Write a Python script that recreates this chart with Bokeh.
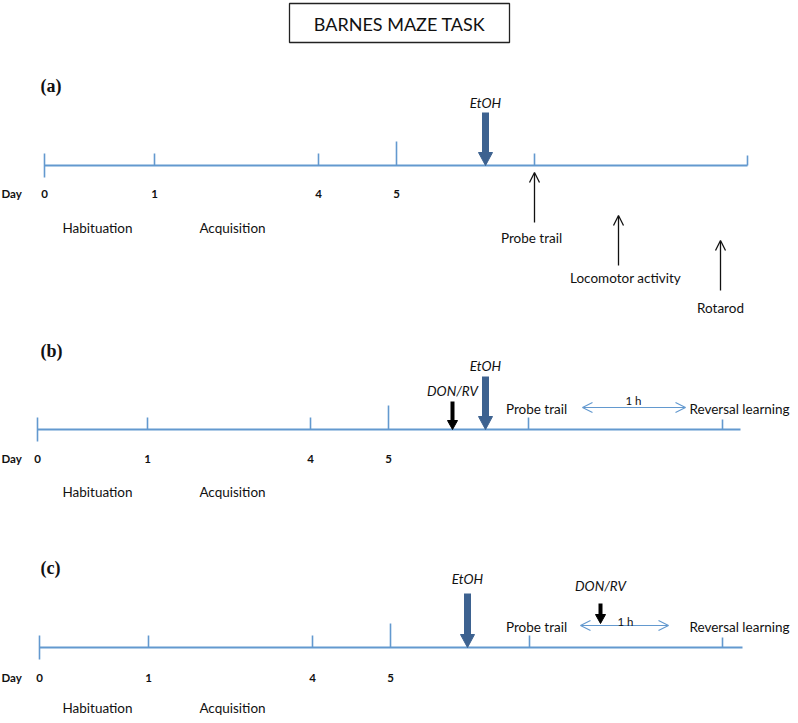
from bokeh.plotting import figure
from bokeh.models import Range1d, Arrow, OpenHead, Label
from bokeh.embed import file_html
from bokeh.resources import INLINE

# ---------------- data (image-pixel coordinates of the diagram) ----------------
day_labels = ["0", "1", "4", "5"]
panel_names = ["(a)", "(b)", "(c)"]
panel_label_y = [85, 350, 567]
line_y = [165, 429, 647]
line_x0 = [44, 37, 39]
line_x1 = [747, 740, 742]
day_tick_x = [[44, 154, 318, 396], [37, 147, 310, 388], [39, 148, 312, 390]]
day_text_y = [193, 458, 677]
phase_labels = ["Habituation", "Acquisition"]
phase_x = [97, 232]
phase_y = [227, 491, 707]

# extra ticks after day 5
extra_tick_x = [[534, 747], [528, 722], [529, 722]]

# EtOH arrows (x, top)
etoh_x = [485, 485, 467]
etoh_top = [112, 376, 593]
etoh_text_y = [102, 365, 578]

# DON/RV arrows (panels b, c)
don_x = [452, 600]
don_top = [401, 603]
don_bot = [429, 623]
don_text_y = [390, 585]

# panel (a) test arrows
test_labels = ["Probe trail", "Locomotor activity", "Rotarod"]
test_x = [534, 618, 720]
test_tip = [172, 215, 240]
test_bot = [222, 265, 290]
test_label_x = [531, 625, 720]
test_label_y = [237, 277, 307]

# panels (b),(c) labels
probe_x = 536
probe_y = [408, 626]
rev_x = 739
rev_y = [408, 626]
hour_x0 = [582, 580]
hour_x1 = [685, 668]
hour_y = [407, 625]
hour_text_x = [633, 625]
hour_text_y = [400, 621]

LINE = "#6399CF"
DARK = "#3D6290"
SANS = "Lato"
W, H = 790, 715

p = figure(width=W, height=H, output_backend="svg", toolbar_location=None,
           x_range=Range1d(0, W), y_range=Range1d(H, 0), min_border=0)
p.axis.visible = False
p.grid.visible = False
p.outline_line_color = None

def label(x, y, t, size=13.5, style="normal", font=SANS, align="center", color="#111111"):
    p.add_layout(Label(x=x, y=y, text=t, text_font_size=f"{size}px", text_font_style=style,
                       text_font=font, text_align=align, text_baseline="middle", text_color=color))

# title box
p.quad(left=[289], right=[509], top=[3], bottom=[42], fill_color=None, line_color="#222222", line_width=1.3)
label(399, 23, "BARNES MAZE TASK", size=18)

for i in range(3):
    ly = line_y[i]
    label(40, panel_label_y[i], panel_names[i], size=18, style="bold", font="Liberation Serif", align="left")
    # timeline
    p.segment(x0=[line_x0[i]], y0=[ly], x1=[line_x1[i]], y1=[ly], line_color=LINE, line_width=2)
    # day ticks
    tx = day_tick_x[i]
    p.segment(x0=[tx[0]], y0=[ly - 12], x1=[tx[0]], y1=[ly + 12], line_color=LINE, line_width=1.6)
    p.segment(x0=tx[1:3], y0=[ly - 12] * 2, x1=tx[1:3], y1=[ly] * 2, line_color=LINE, line_width=1.6)
    p.segment(x0=[tx[3]], y0=[ly - 24], x1=[tx[3]], y1=[ly], line_color=LINE, line_width=1.6)
    ex = extra_tick_x[i]
    p.segment(x0=ex, y0=[ly - 12, ly - 10], x1=ex, y1=[ly, ly], line_color=LINE, line_width=1.6)
    # day labels
    label(1, day_text_y[i], "Day", size=11.5, style="bold", align="left")
    for d, x in zip(day_labels, tx):
        label(x, day_text_y[i], d, size=11.5, style="bold")
    for t, x in zip(phase_labels, phase_x):
        label(x, phase_y[i], t, size=13.5)
    # EtOH arrow
    ex0 = etoh_x[i]
    p.segment(x0=[ex0], y0=[etoh_top[i]], x1=[ex0], y1=[ly - 12], line_color=DARK, line_width=7, line_cap="butt")
    p.patch(x=[ex0 - 7, ex0 + 7, ex0], y=[ly - 13, ly - 13, ly], fill_color=DARK, line_color=DARK)
    label(ex0, etoh_text_y[i], "EtOH", size=13.5, style="italic")

# panel (a) arrows
for t, x, tip, bot, lx, lyy in zip(test_labels, test_x, test_tip, test_bot, test_label_x, test_label_y):
    p.add_layout(Arrow(end=OpenHead(size=10, line_width=1.3, line_color="#111111"),
                       x_start=x, y_start=bot, x_end=x, y_end=tip,
                       line_width=1.3, line_color="#111111"))
    label(lx, lyy, t, size=13.5)

# panels (b), (c)
for j in range(2):
    dx = don_x[j]
    p.segment(x0=[dx], y0=[don_top[j]], x1=[dx], y1=[don_bot[j] - 8], line_color="#000000",
              line_width=4, line_cap="butt")
    p.patch(x=[dx - 5, dx + 5, dx], y=[don_bot[j] - 9, don_bot[j] - 9, don_bot[j]],
            fill_color="#000000", line_color="#000000")
    label(dx, don_text_y[j], "DON/RV", size=13.5, style="italic")
    label(probe_x, probe_y[j], "Probe trail", size=13.5)
    label(rev_x, rev_y[j], "Reversal learning", size=13.5)
    p.add_layout(Arrow(start=OpenHead(size=10, line_width=1.2, line_color=LINE),
                       end=OpenHead(size=10, line_width=1.2, line_color=LINE),
                       x_start=hour_x0[j], y_start=hour_y[j], x_end=hour_x1[j], y_end=hour_y[j],
                       line_width=1.2, line_color=LINE))
    label(hour_text_x[j], hour_text_y[j], "1 h", size=11.5)

open("out.html", "w").write(file_html(p, INLINE))
